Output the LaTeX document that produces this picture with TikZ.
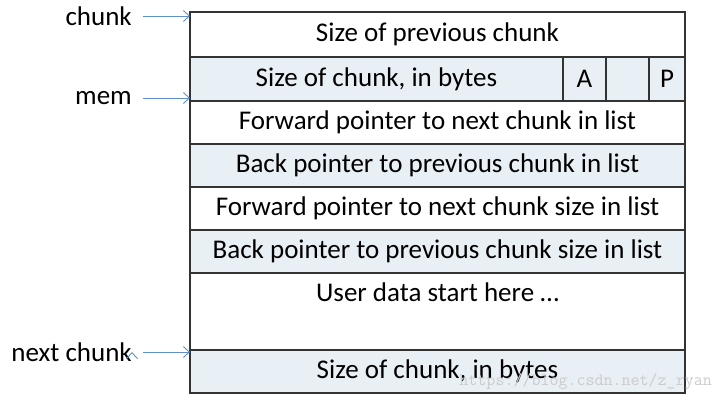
\documentclass[tikz,border=0pt]{standalone}
\usepackage{fontspec}
\setmainfont{Carlito}
\usetikzlibrary{positioning,arrows.meta}
\definecolor{rowblue}{HTML}{E8EFF5}
\definecolor{ptrblue}{HTML}{5F8FCC}

\begin{document}
\begin{tikzpicture}[x=1pt,y=-1pt,
  cell/.style={draw=black!80,line width=1.1pt,outer sep=0pt,inner sep=0pt,
    minimum height=#1,font=\fontsize{27}{30}\selectfont},
  row/.style={cell=#1,minimum width=495pt},
  shaded/.style={fill=rowblue},
  tag/.style={anchor=east,inner sep=0pt,font=\fontsize{27}{30}\selectfont},
  ptr/.style={draw=ptrblue,line width=0.9pt,shorten <=11pt,
    -{Straight Barb[length=6pt,width=11pt,line width=0.9pt]}}]
\useasboundingbox (0,0) rectangle (720,401);

\node (prev) [row=45pt,anchor=north west] at (190,12) {Size of previous chunk};
\node (size) [cell=44pt,shaded,minimum width=373pt,below=0pt of prev.south west,anchor=north west] {Size of chunk, in bytes};
\node (flaga) [cell=44pt,shaded,minimum width=43pt,right=0pt of size] {A};
\node (flagm) [cell=44pt,shaded,minimum width=43pt,right=0pt of flaga] {};
\node (flagp) [cell=44pt,shaded,minimum width=36pt,right=0pt of flagm] {P};
\node (fd) [row=43pt,below=0pt of size.south west,anchor=north west] {Forward pointer to next chunk in list};
\node (bk) [row=43pt,shaded,below=0pt of fd] {Back pointer to previous chunk in list};
\node (fdsize) [row=43pt,below=0pt of bk] {Forward pointer to next chunk size in list};
\node (bksize) [row=43pt,shaded,below=0pt of fdsize] {Back pointer to previous chunk size in list};
\node (user) [row=77pt,below=0pt of bksize] {};
\node (usertxt) [inner sep=0pt,font=\fontsize{27}{30}\selectfont,below=10pt of user.north] {User data start here \dots};
\node (nextsize) [row=43pt,shaded,below=0pt of user] {Size of chunk, in bytes};

\node (chunk) [tag] at (132,16) {chunk};
\node (mem) [tag] at (132,98) {mem};
\node (next) [tag] at (132,352) {next chunk};

\node (mark) [anchor=east,inner sep=0pt,text=black!20,font=\fontfamily{lmtt}\fontsize{17.5}{18}\selectfont] at (712,381) {https://blog.csdn.net/z\_ryan};

\path [ptr]
(chunk.east) edge (chunk.east -| prev.west)
(mem.east) edge (mem.east -| prev.west)
(next.east) edge (next.east -| prev.west)
;
\end{tikzpicture}
\end{document}
